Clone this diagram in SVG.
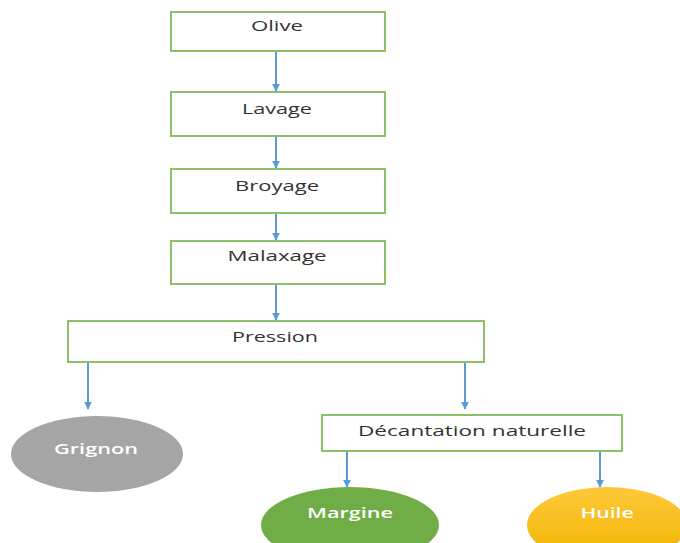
<svg xmlns="http://www.w3.org/2000/svg" width="680" height="543" viewBox="0 0 680 543">
<defs>
<style>
.box{fill:#fff;stroke:#8CC168;stroke-width:2}
.lbl{font-family:"Open Sans","Liberation Sans",sans-serif;font-size:15px;fill:#333;text-anchor:middle;dominant-baseline:central}
.wl{font-family:"Open Sans","Liberation Sans",sans-serif;font-size:15px;font-weight:600;fill:#fff;text-anchor:middle;dominant-baseline:central}
.con{stroke:#5B9BD5;stroke-width:2;fill:none;marker-end:url(#ah)}
</style>
<marker id="ah" viewBox="0 0 10 10" refX="9" refY="5" markerWidth="4" markerHeight="5" orient="auto" markerUnits="strokeWidth">
<path d="M0,0 L10,5 L0,10 z" fill="#5B9BD5"/>
</marker>
<linearGradient id="gy" x1="0" y1="0" x2="0" y2="1">
<stop offset="0" stop-color="#FFC83A"/>
<stop offset="1" stop-color="#F0B400"/>
</linearGradient>
</defs>
<rect width="680" height="543" fill="#fff"/>
<g id="connectors">
<line class="con" x1="276" y1="52" x2="276" y2="91"/>
<line class="con" x1="276" y1="137" x2="276" y2="168"/>
<line class="con" x1="276" y1="214" x2="276" y2="240"/>
<line class="con" x1="276" y1="285" x2="276" y2="320"/>
<line class="con" x1="88" y1="362" x2="88" y2="409"/>
<line class="con" x1="465" y1="362" x2="465" y2="409"/>
<line class="con" x1="347" y1="452" x2="347" y2="487"/>
<line class="con" x1="600" y1="452" x2="600" y2="487"/>
</g>
<g id="olive"><rect class="box" x="171" y="12" width="214" height="39"/><text class="lbl" x="277" y="25" textLength="52" lengthAdjust="spacingAndGlyphs">Olive</text></g>
<g id="lavage"><rect class="box" x="171" y="92" width="214" height="44"/><text class="lbl" x="277" y="108" textLength="70" lengthAdjust="spacingAndGlyphs">Lavage</text></g>
<g id="broyage"><rect class="box" x="171" y="169" width="214" height="44"/><text class="lbl" x="277" y="185" textLength="84" lengthAdjust="spacingAndGlyphs">Broyage</text></g>
<g id="malaxage"><rect class="box" x="171" y="241" width="214" height="43"/><text class="lbl" x="277" y="255" textLength="99" lengthAdjust="spacingAndGlyphs">Malaxage</text></g>
<g id="pression"><rect class="box" x="68" y="321" width="416" height="41"/><text class="lbl" x="275" y="336" textLength="86" lengthAdjust="spacingAndGlyphs">Pression</text></g>
<g id="decantation"><rect class="box" x="322" y="415" width="300" height="36"/><text class="lbl" x="472" y="430" textLength="228" lengthAdjust="spacingAndGlyphs">Décantation naturelle</text></g>
<g id="grignon"><ellipse cx="97" cy="454" rx="86" ry="38" fill="#A5A5A5"/><text class="wl" x="96" y="448" textLength="84" lengthAdjust="spacingAndGlyphs">Grignon</text></g>
<g id="margine"><ellipse cx="350" cy="525" rx="89" ry="38" fill="#70AD47"/><text class="wl" x="350" y="512" textLength="86" lengthAdjust="spacingAndGlyphs">Margine</text></g>
<g id="huile"><ellipse cx="607" cy="525" rx="80" ry="38" fill="url(#gy)"/><text class="wl" x="607" y="512" textLength="53" lengthAdjust="spacingAndGlyphs">Huile</text></g>
</svg>
